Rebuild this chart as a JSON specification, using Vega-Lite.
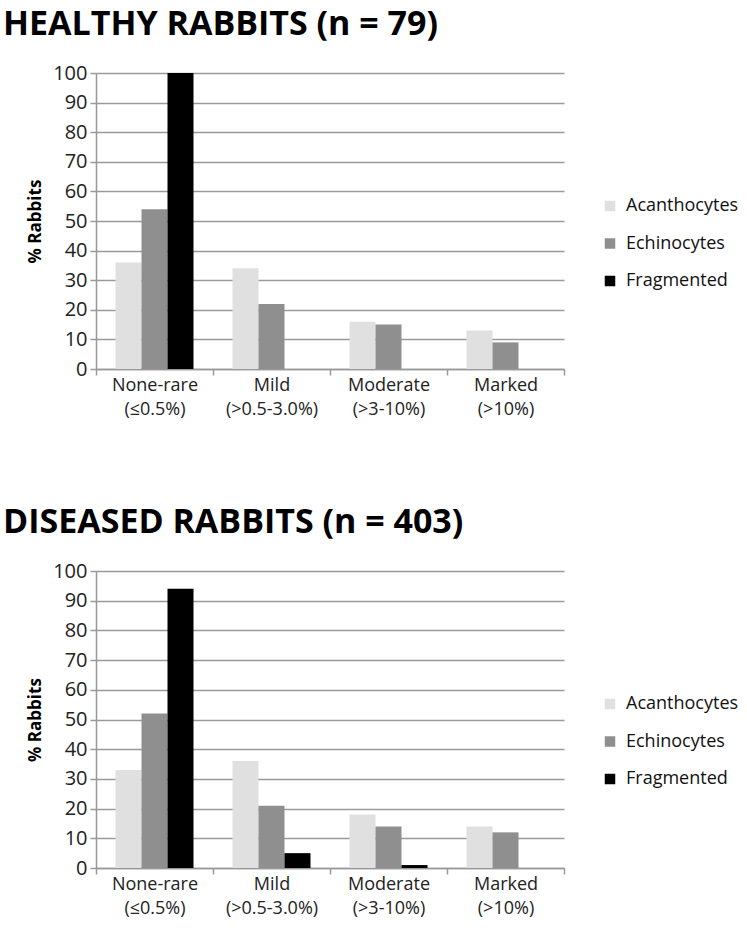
{
  "$schema": "https://vega.github.io/schema/vega-lite/v6.json",
  "background": "white",
  "padding": {"left": 3, "top": 8, "right": 0, "bottom": 5},
  "config": {
    "font": "Open Sans",
    "view": {"stroke": null},
    "concat": {"spacing": 88},
    "title": {"font": "Open Sans", "fontWeight": "bold", "fontSize": 34, "anchor": "start", "color": "#000", "frame": "group", "dx": -93, "offset": 21},
    "axis": {"labelFont": "Open Sans", "labelColor": "#222", "titleColor": "#000", "domainColor": "#999", "tickColor": "#999", "gridColor": "#9a9a9a", "domainWidth": 1.5, "tickWidth": 1.5, "gridWidth": 1.5},
    "legend": {"labelFont": "Open Sans", "labelFontSize": 18, "labelColor": "#111", "symbolType": "square", "symbolSize": 110, "symbolStrokeWidth": 0, "labelOffset": 7, "rowPadding": 19.5, "title": null, "orient": "none", "legendX": 505, "legendY": 124}
  },
  "datasets": {
    "healthy": [
      {"cat": "None-rare|(≤0.5%)", "type": "Acanthocytes", "pct": 36},
      {"cat": "None-rare|(≤0.5%)", "type": "Echinocytes", "pct": 54},
      {"cat": "None-rare|(≤0.5%)", "type": "Fragmented", "pct": 100},
      {"cat": "Mild|(>0.5-3.0%)", "type": "Acanthocytes", "pct": 34},
      {"cat": "Mild|(>0.5-3.0%)", "type": "Echinocytes", "pct": 22},
      {"cat": "Mild|(>0.5-3.0%)", "type": "Fragmented", "pct": 0},
      {"cat": "Moderate|(>3-10%)", "type": "Acanthocytes", "pct": 16},
      {"cat": "Moderate|(>3-10%)", "type": "Echinocytes", "pct": 15},
      {"cat": "Moderate|(>3-10%)", "type": "Fragmented", "pct": 0},
      {"cat": "Marked|(>10%)", "type": "Acanthocytes", "pct": 13},
      {"cat": "Marked|(>10%)", "type": "Echinocytes", "pct": 9},
      {"cat": "Marked|(>10%)", "type": "Fragmented", "pct": 0}
    ],
    "diseased": [
      {"cat": "None-rare|(≤0.5%)", "type": "Acanthocytes", "pct": 33},
      {"cat": "None-rare|(≤0.5%)", "type": "Echinocytes", "pct": 52},
      {"cat": "None-rare|(≤0.5%)", "type": "Fragmented", "pct": 94},
      {"cat": "Mild|(>0.5-3.0%)", "type": "Acanthocytes", "pct": 36},
      {"cat": "Mild|(>0.5-3.0%)", "type": "Echinocytes", "pct": 21},
      {"cat": "Mild|(>0.5-3.0%)", "type": "Fragmented", "pct": 5},
      {"cat": "Moderate|(>3-10%)", "type": "Acanthocytes", "pct": 18},
      {"cat": "Moderate|(>3-10%)", "type": "Echinocytes", "pct": 14},
      {"cat": "Moderate|(>3-10%)", "type": "Fragmented", "pct": 1},
      {"cat": "Marked|(>10%)", "type": "Acanthocytes", "pct": 14},
      {"cat": "Marked|(>10%)", "type": "Echinocytes", "pct": 12},
      {"cat": "Marked|(>10%)", "type": "Fragmented", "pct": 0}
    ]
  },
  "resolve": {"legend": {"color": "independent"}},
  "vconcat": [
    {
      "title": "HEALTHY RABBITS (n = 79)",
      "width": 468,
      "height": 296,
      "data": {"name": "healthy"},
      "mark": {"type": "bar"},
      "encoding": {
        "x": {"field": "cat", "type": "nominal", "sort": null, "scale": {"paddingInner": 0, "paddingOuter": 0},
              "axis": {"title": null, "labelAngle": 0, "labelFontSize": 18, "labelPadding": 1, "labelLineHeight": 24, "labelExpr": "split(datum.label, '|')", "tickBand": "extent", "tickSize": 6}},
        "xOffset": {"field": "type", "type": "nominal", "scale": {"paddingInner": 0, "paddingOuter": 0.75}},
        "y": {"field": "pct", "type": "quantitative", "scale": {"domain": [0, 100]},
              "axis": {"title": "% Rabbits", "titleFontSize": 17, "titleFont": "Open Sans", "titleFontWeight": "bold", "titlePadding": 8, "labelFontSize": 20, "labelPadding": 3, "labelOverlap": false, "values": [0,10,20,30,40,50,60,70,80,90,100], "tickSize": 6}},
        "color": {"field": "type", "type": "nominal", "scale": {"domain": ["Acanthocytes", "Echinocytes", "Fragmented"], "range": ["#e0e0e0", "#8f8f8f", "#000000"]}}
      }
    },
    {
      "title": "DISEASED RABBITS (n = 403)",
      "width": 468,
      "height": 297,
      "data": {"name": "diseased"},
      "mark": {"type": "bar"},
      "encoding": {
        "x": {"field": "cat", "type": "nominal", "sort": null, "scale": {"paddingInner": 0, "paddingOuter": 0},
              "axis": {"title": null, "labelAngle": 0, "labelFontSize": 18, "labelPadding": 1, "labelLineHeight": 24, "labelExpr": "split(datum.label, '|')", "tickBand": "extent", "tickSize": 6}},
        "xOffset": {"field": "type", "type": "nominal", "scale": {"paddingInner": 0, "paddingOuter": 0.75}},
        "y": {"field": "pct", "type": "quantitative", "scale": {"domain": [0, 100]},
              "axis": {"title": "% Rabbits", "titleFontSize": 17, "titleFont": "Open Sans", "titleFontWeight": "bold", "titlePadding": 8, "labelFontSize": 20, "labelPadding": 3, "labelOverlap": false, "values": [0,10,20,30,40,50,60,70,80,90,100], "tickSize": 6}},
        "color": {"field": "type", "type": "nominal", "scale": {"domain": ["Acanthocytes", "Echinocytes", "Fragmented"], "range": ["#e0e0e0", "#8f8f8f", "#000000"]}}
      }
    }
  ]
}
